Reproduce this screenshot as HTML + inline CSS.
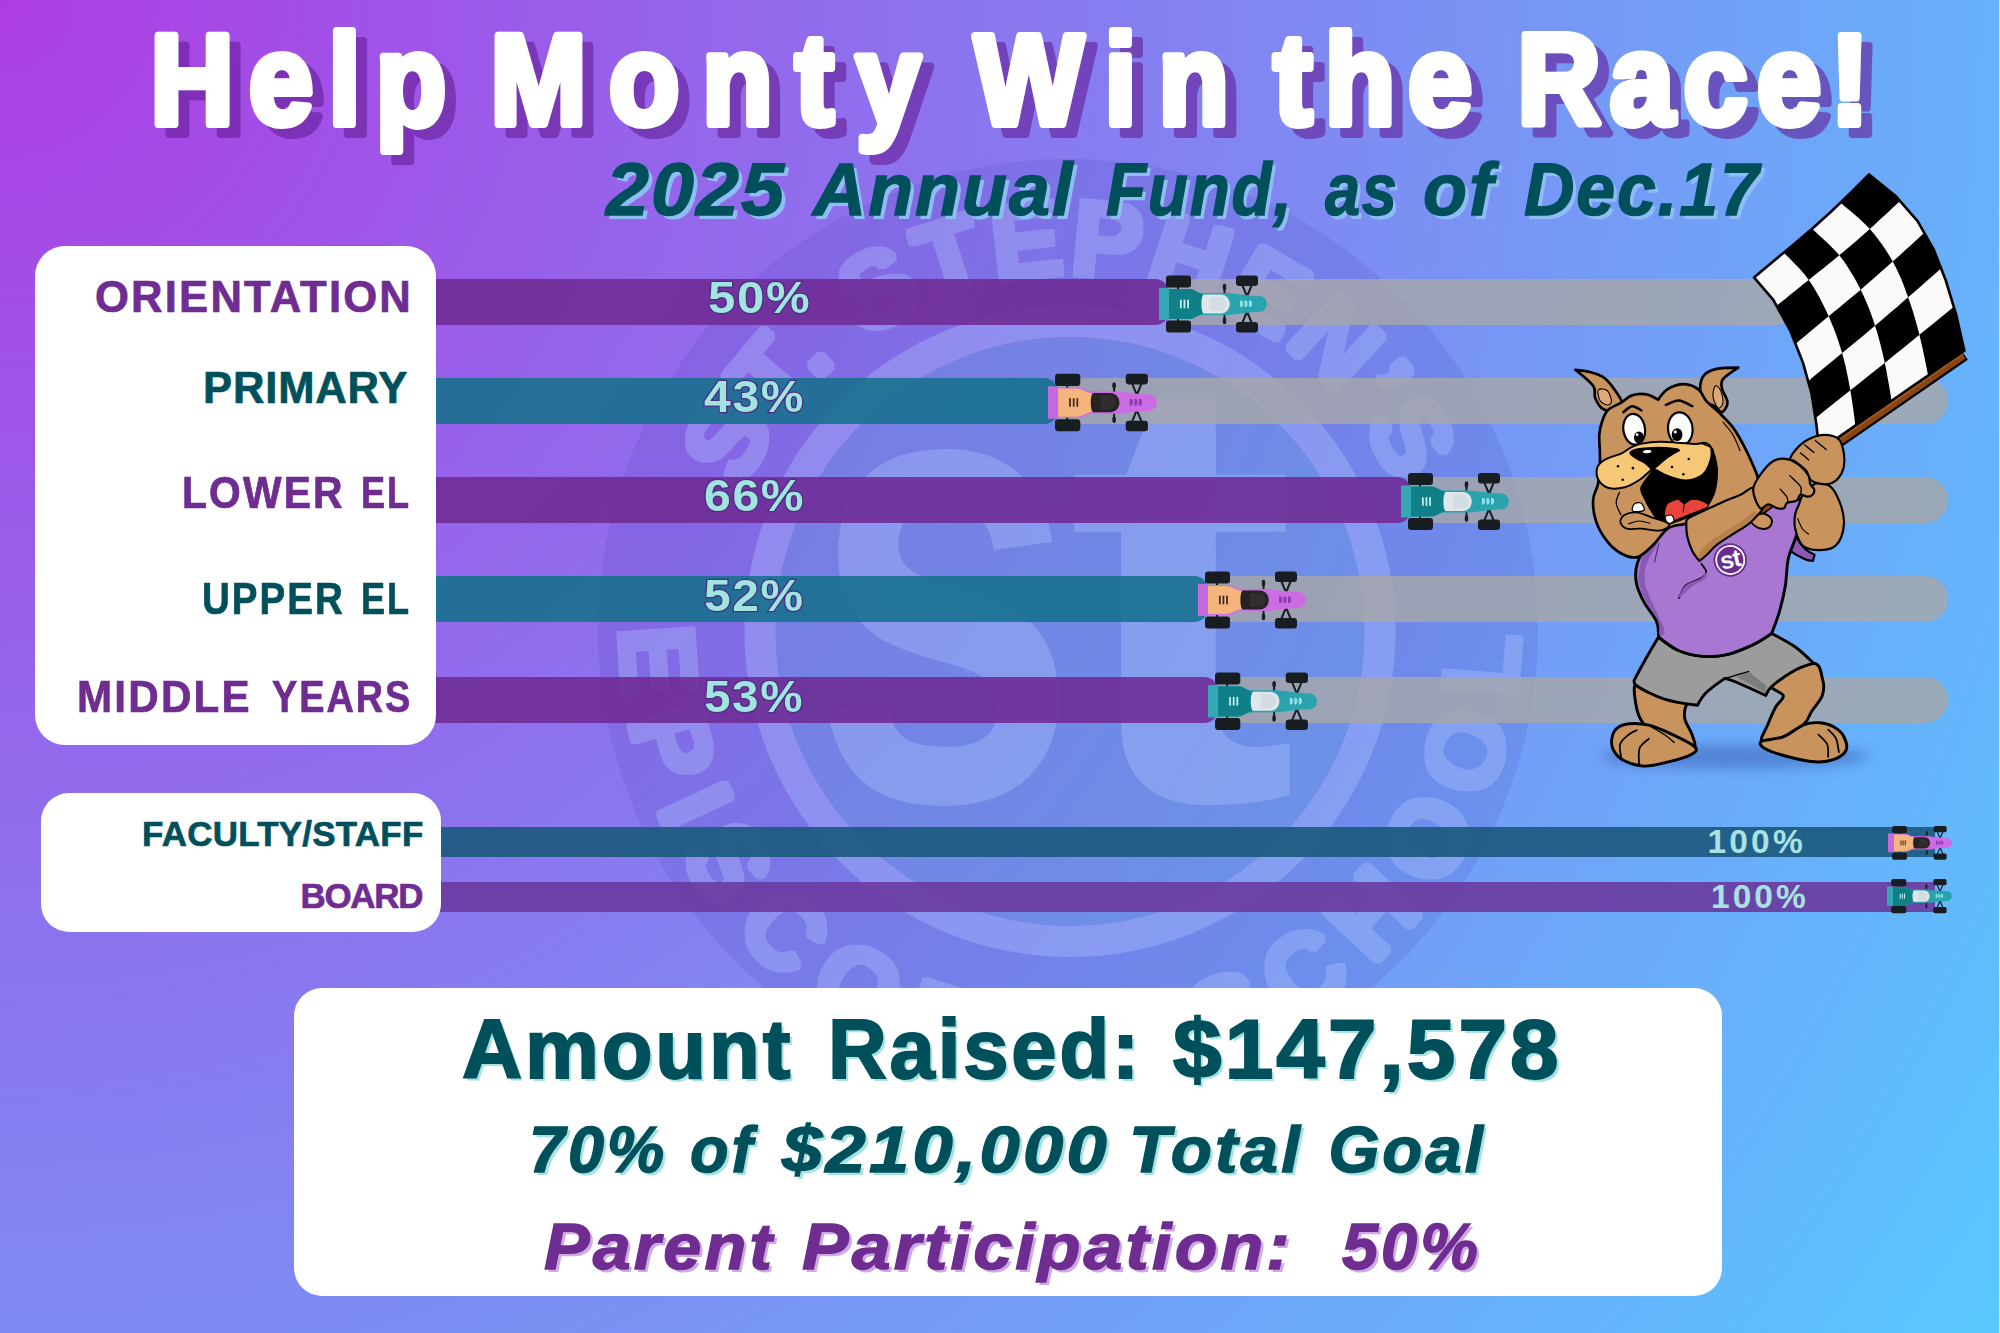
<!DOCTYPE html>
<html lang="en"><head><meta charset="utf-8"><title>Help Monty Win the Race!</title>
<style>
html,body{margin:0;padding:0;background:#68b0fb;}
body{width:2000px;height:1333px;overflow:hidden;font-family:"Liberation Sans",sans-serif;}
#page{position:relative;width:2000px;height:1333px;overflow:hidden;background:radial-gradient(circle farthest-corner at 0 0,#ad3de3 0%,#59c8ff 100%);}
#page>*{position:absolute;}
.tx{white-space:pre;line-height:1;font-weight:700;transform-origin:0 0;}
.title{color:#fff;-webkit-text-stroke:6px #fff;text-shadow:8.5px 8px 0 rgba(100,30,150,.6);}
.sub{color:#00505c;-webkit-text-stroke:1.4px #00505c;font-style:italic;text-shadow:4px 4px 0 #8fbdf3;}
.lab.pur{color:#6f2c91;-webkit-text-stroke:.7px #6f2c91;}
.lab.teal{color:#00505c;-webkit-text-stroke:.7px #00505c;}
.pct{color:#a2e4e0;-webkit-text-stroke:2.4px #4b2f83;paint-order:stroke fill;}
.pct2{color:#a8e2e2;}
.amt{color:#00505c;-webkit-text-stroke:2px #00505c;text-shadow:3px 3px 0 #a5e3e3;}
.goal{color:#00505c;-webkit-text-stroke:1.4px #00505c;font-style:italic;text-shadow:3px 3px 0 #a5e3e3;}
.par{color:#6f2c91;-webkit-text-stroke:1.4px #6f2c91;font-style:italic;text-shadow:3px 3px 0 #cfa9e3;}
.panel{background:#fff;}
.bar{opacity:.9;}
.trk{background:rgba(168,168,168,.8);}
</style></head>
<body><div id="page">
<svg style="left:0;top:0" width="2000" height="1333" viewBox="0 0 2000 1333">
<defs><filter id="fat" x="-2%" y="-2%" width="104%" height="104%"><feMorphology operator="dilate" radius="2.5"/></filter></defs>
<circle cx="1068" cy="629" r="470" fill="rgba(60,55,170,.13)"/>
<circle cx="1070" cy="631.5" r="294.5" fill="rgba(100,165,225,.3)"/>
<circle cx="1070" cy="631.5" r="310" fill="none" stroke="rgba(178,198,255,.34)" stroke-width="31"/>
<path id="wmTop" d="M743.1,489.3 A356.5,356.5 0 0 1 1395.7,486.5" fill="none"/>
<path id="wmBot" d="M620.5,627.6 A449.5,449.5 0 0 0 1519.5,635.4" fill="none"/>
<g opacity=".34" fill="#b2c6ff" font-family="Liberation Sans, sans-serif" font-weight="700">
<g filter="url(#fat)">
<text font-size="106"><textPath href="#wmTop" textLength="824" lengthAdjust="spacing">ST. STEPHEN’S</textPath></text>
<text font-size="106"><textPath href="#wmBot" textLength="1412" lengthAdjust="spacing">EPISCOPAL SCHOOL</textPath></text>
</g>
<text font-size="200" transform="translate(811.2,799.5) scale(2.396,3.2545)">s</text>
<text font-size="200" transform="translate(1066,799.8) scale(3.484,3.076)">t</text>
</g>
</svg>
<div class="trk" style="left:1169px;top:279px;width:631px;height:46px;border-radius:0 23.0px 23.0px 0;"></div>
<div class="bar" style="left:430px;top:279px;width:739px;height:46px;background:#6f2c96;border-radius:0 14px 14px 0;"></div>
<div class="trk" style="left:1058px;top:378px;width:890px;height:46px;border-radius:0 23.0px 23.0px 0;"></div>
<div class="bar" style="left:430px;top:378px;width:628px;height:46px;background:#18708f;border-radius:0 14px 14px 0;"></div>
<div class="trk" style="left:1411px;top:476.5px;width:537px;height:46.0px;border-radius:0 23.0px 23.0px 0;"></div>
<div class="bar" style="left:430px;top:476.5px;width:981px;height:46.0px;background:#6f2c96;border-radius:0 14px 14px 0;"></div>
<div class="trk" style="left:1208px;top:576px;width:740px;height:46px;border-radius:0 23.0px 23.0px 0;"></div>
<div class="bar" style="left:430px;top:576px;width:778px;height:46px;background:#18708f;border-radius:0 14px 14px 0;"></div>
<div class="trk" style="left:1218px;top:677px;width:730px;height:46px;border-radius:0 23.0px 23.0px 0;"></div>
<div class="bar" style="left:430px;top:677px;width:788px;height:46px;background:#6f2c96;border-radius:0 14px 14px 0;"></div>
<div class="bar2" style="left:430px;top:827px;width:1505px;height:30px;background:#1d5a80;opacity:.93;"></div>
<div class="bar2" style="left:430px;top:882px;width:1505px;height:30px;background:#6a3a9e;opacity:.9;"></div>
<div class="panel" style="left:35px;top:246px;width:401px;height:499px;border-radius:30px;"></div>
<div class="panel" style="left:41px;top:793px;width:400px;height:139px;border-radius:28px;"></div>
<div class="panel" style="left:294px;top:988px;width:1428px;height:308px;border-radius:28px;"></div>
<svg style="left:0;top:0" width="2000" height="1333" viewBox="0 0 2000 1333"><g transform="translate(1159,275.5) scale(1.0000)"><g stroke="#181d22" stroke-width="2" fill="none" stroke-linecap="round"><path d="M19 10V16M19 41V47"/><path d="M83.5 10 L88 21 L92.5 10M83.5 47 L88 36 L92.5 47"/><path d="M65.5 12V20M65.5 37V45"/></g><rect x="7" y="0" width="25" height="12" rx="3" fill="#181d22"/><rect x="7" y="45" width="25" height="12" rx="3" fill="#181d22"/><rect x="77" y="0" width="22" height="10.5" rx="3" fill="#181d22"/><rect x="77" y="46.5" width="22" height="10.5" rx="3" fill="#181d22"/><ellipse cx="65.5" cy="11.5" rx="1.8" ry="3.2" fill="#181d22"/><ellipse cx="65.5" cy="45.5" rx="1.8" ry="3.2" fill="#181d22"/><path d="M9 13.5 H30 C36 13.5 38 17.5 44 17.5 H70 C80 19 92 20.3 100 20.5 C110.5 21 110.5 36 100 36.5 C92 36.7 80 38 70 39.5 H44 C38 39.5 36 43.5 30 43.5 H9 Z" fill="#2aa3af"/><path d="M10 13.5 H30 C36 13.5 38 18 44 18.5 V38.5 C38 39 36 43.5 30 43.5 H10 Z" fill="#0f7f88"/><rect x="0" y="12.5" width="10" height="32" fill="#35a9b3"/><path d="M45 19 H61 C74 19 74 38 61 38 H45 C41.5 38 41.5 19 45 19 Z" fill="#dfe7ea"/><path d="M52 21.5 H60 C70 21.5 70 35.5 60 35.5 H52 Z" fill="#c9d3d8" opacity=".55"/><rect x="21" y="24" width="1.7" height="9" rx=".8" fill="#c8f2f2"/><rect x="24.6" y="24" width="1.7" height="9" rx=".8" fill="#c8f2f2"/><rect x="28.2" y="24" width="1.7" height="9" rx=".8" fill="#c8f2f2"/><path d="M81 25 h1.2 c2.6 0 2.6 6.6 0 6.6 h-1.2 z" fill="#8fe3e8"/><path d="M85.5 25 h1.2 c2.6 0 2.6 6.6 0 6.6 h-1.2 z" fill="#8fe3e8"/><path d="M90 25 h1.2 c2.6 0 2.6 6.6 0 6.6 h-1.2 z" fill="#8fe3e8"/></g><g transform="translate(1048,373.8) scale(1.0093)"><g stroke="#181d22" stroke-width="2" fill="none" stroke-linecap="round"><path d="M19 10V16M19 41V47"/><path d="M83.5 10 L88 21 L92.5 10M83.5 47 L88 36 L92.5 47"/><path d="M65.5 12V20M65.5 37V45"/></g><rect x="7" y="0" width="25" height="12" rx="3" fill="#181d22"/><rect x="7" y="45" width="25" height="12" rx="3" fill="#181d22"/><rect x="77" y="0" width="22" height="10.5" rx="3" fill="#181d22"/><rect x="77" y="46.5" width="22" height="10.5" rx="3" fill="#181d22"/><ellipse cx="65.5" cy="11.5" rx="1.8" ry="3.2" fill="#181d22"/><ellipse cx="65.5" cy="45.5" rx="1.8" ry="3.2" fill="#181d22"/><path d="M9 13.5 H30 C36 13.5 38 17.5 44 17.5 H70 C80 19 92 20.3 100 20.5 C110.5 21 110.5 36 100 36.5 C92 36.7 80 38 70 39.5 H44 C38 39.5 36 43.5 30 43.5 H9 Z" fill="#cc6be3"/><path d="M10 14.5 H26 C32 14.5 34 16 40 18.5 L46 20 V37 L40 38.5 C34 41 32 42.5 26 42.5 H10 Z" fill="#f3b57c"/><rect x="0" y="12.5" width="10" height="32" fill="#c56add"/><path d="M45 19 H61 C74 19 74 38 61 38 H45 C41.5 38 41.5 19 45 19 Z" fill="#262223"/><path d="M52 21.5 H60 C70 21.5 70 35.5 60 35.5 H52 Z" fill="#3a3536" opacity=".55"/><rect x="21" y="24" width="1.7" height="9" rx=".8" fill="#3b2a22"/><rect x="24.6" y="24" width="1.7" height="9" rx=".8" fill="#3b2a22"/><rect x="28.2" y="24" width="1.7" height="9" rx=".8" fill="#3b2a22"/><path d="M81 25 h1.2 c2.6 0 2.6 6.6 0 6.6 h-1.2 z" fill="#8a3cab"/><path d="M85.5 25 h1.2 c2.6 0 2.6 6.6 0 6.6 h-1.2 z" fill="#8a3cab"/><path d="M90 25 h1.2 c2.6 0 2.6 6.6 0 6.6 h-1.2 z" fill="#8a3cab"/></g><g transform="translate(1401,473) scale(1.0000)"><g stroke="#181d22" stroke-width="2" fill="none" stroke-linecap="round"><path d="M19 10V16M19 41V47"/><path d="M83.5 10 L88 21 L92.5 10M83.5 47 L88 36 L92.5 47"/><path d="M65.5 12V20M65.5 37V45"/></g><rect x="7" y="0" width="25" height="12" rx="3" fill="#181d22"/><rect x="7" y="45" width="25" height="12" rx="3" fill="#181d22"/><rect x="77" y="0" width="22" height="10.5" rx="3" fill="#181d22"/><rect x="77" y="46.5" width="22" height="10.5" rx="3" fill="#181d22"/><ellipse cx="65.5" cy="11.5" rx="1.8" ry="3.2" fill="#181d22"/><ellipse cx="65.5" cy="45.5" rx="1.8" ry="3.2" fill="#181d22"/><path d="M9 13.5 H30 C36 13.5 38 17.5 44 17.5 H70 C80 19 92 20.3 100 20.5 C110.5 21 110.5 36 100 36.5 C92 36.7 80 38 70 39.5 H44 C38 39.5 36 43.5 30 43.5 H9 Z" fill="#2aa3af"/><path d="M10 13.5 H30 C36 13.5 38 18 44 18.5 V38.5 C38 39 36 43.5 30 43.5 H10 Z" fill="#0f7f88"/><rect x="0" y="12.5" width="10" height="32" fill="#35a9b3"/><path d="M45 19 H61 C74 19 74 38 61 38 H45 C41.5 38 41.5 19 45 19 Z" fill="#dfe7ea"/><path d="M52 21.5 H60 C70 21.5 70 35.5 60 35.5 H52 Z" fill="#c9d3d8" opacity=".55"/><rect x="21" y="24" width="1.7" height="9" rx=".8" fill="#c8f2f2"/><rect x="24.6" y="24" width="1.7" height="9" rx=".8" fill="#c8f2f2"/><rect x="28.2" y="24" width="1.7" height="9" rx=".8" fill="#c8f2f2"/><path d="M81 25 h1.2 c2.6 0 2.6 6.6 0 6.6 h-1.2 z" fill="#8fe3e8"/><path d="M85.5 25 h1.2 c2.6 0 2.6 6.6 0 6.6 h-1.2 z" fill="#8fe3e8"/><path d="M90 25 h1.2 c2.6 0 2.6 6.6 0 6.6 h-1.2 z" fill="#8fe3e8"/></g><g transform="translate(1198,571.5) scale(1.0000)"><g stroke="#181d22" stroke-width="2" fill="none" stroke-linecap="round"><path d="M19 10V16M19 41V47"/><path d="M83.5 10 L88 21 L92.5 10M83.5 47 L88 36 L92.5 47"/><path d="M65.5 12V20M65.5 37V45"/></g><rect x="7" y="0" width="25" height="12" rx="3" fill="#181d22"/><rect x="7" y="45" width="25" height="12" rx="3" fill="#181d22"/><rect x="77" y="0" width="22" height="10.5" rx="3" fill="#181d22"/><rect x="77" y="46.5" width="22" height="10.5" rx="3" fill="#181d22"/><ellipse cx="65.5" cy="11.5" rx="1.8" ry="3.2" fill="#181d22"/><ellipse cx="65.5" cy="45.5" rx="1.8" ry="3.2" fill="#181d22"/><path d="M9 13.5 H30 C36 13.5 38 17.5 44 17.5 H70 C80 19 92 20.3 100 20.5 C110.5 21 110.5 36 100 36.5 C92 36.7 80 38 70 39.5 H44 C38 39.5 36 43.5 30 43.5 H9 Z" fill="#cc6be3"/><path d="M10 14.5 H26 C32 14.5 34 16 40 18.5 L46 20 V37 L40 38.5 C34 41 32 42.5 26 42.5 H10 Z" fill="#f3b57c"/><rect x="0" y="12.5" width="10" height="32" fill="#c56add"/><path d="M45 19 H61 C74 19 74 38 61 38 H45 C41.5 38 41.5 19 45 19 Z" fill="#262223"/><path d="M52 21.5 H60 C70 21.5 70 35.5 60 35.5 H52 Z" fill="#3a3536" opacity=".55"/><rect x="21" y="24" width="1.7" height="9" rx=".8" fill="#3b2a22"/><rect x="24.6" y="24" width="1.7" height="9" rx=".8" fill="#3b2a22"/><rect x="28.2" y="24" width="1.7" height="9" rx=".8" fill="#3b2a22"/><path d="M81 25 h1.2 c2.6 0 2.6 6.6 0 6.6 h-1.2 z" fill="#8a3cab"/><path d="M85.5 25 h1.2 c2.6 0 2.6 6.6 0 6.6 h-1.2 z" fill="#8a3cab"/><path d="M90 25 h1.2 c2.6 0 2.6 6.6 0 6.6 h-1.2 z" fill="#8a3cab"/></g><g transform="translate(1208,672.5) scale(1.0093)"><g stroke="#181d22" stroke-width="2" fill="none" stroke-linecap="round"><path d="M19 10V16M19 41V47"/><path d="M83.5 10 L88 21 L92.5 10M83.5 47 L88 36 L92.5 47"/><path d="M65.5 12V20M65.5 37V45"/></g><rect x="7" y="0" width="25" height="12" rx="3" fill="#181d22"/><rect x="7" y="45" width="25" height="12" rx="3" fill="#181d22"/><rect x="77" y="0" width="22" height="10.5" rx="3" fill="#181d22"/><rect x="77" y="46.5" width="22" height="10.5" rx="3" fill="#181d22"/><ellipse cx="65.5" cy="11.5" rx="1.8" ry="3.2" fill="#181d22"/><ellipse cx="65.5" cy="45.5" rx="1.8" ry="3.2" fill="#181d22"/><path d="M9 13.5 H30 C36 13.5 38 17.5 44 17.5 H70 C80 19 92 20.3 100 20.5 C110.5 21 110.5 36 100 36.5 C92 36.7 80 38 70 39.5 H44 C38 39.5 36 43.5 30 43.5 H9 Z" fill="#2aa3af"/><path d="M10 13.5 H30 C36 13.5 38 18 44 18.5 V38.5 C38 39 36 43.5 30 43.5 H10 Z" fill="#0f7f88"/><rect x="0" y="12.5" width="10" height="32" fill="#35a9b3"/><path d="M45 19 H61 C74 19 74 38 61 38 H45 C41.5 38 41.5 19 45 19 Z" fill="#dfe7ea"/><path d="M52 21.5 H60 C70 21.5 70 35.5 60 35.5 H52 Z" fill="#c9d3d8" opacity=".55"/><rect x="21" y="24" width="1.7" height="9" rx=".8" fill="#c8f2f2"/><rect x="24.6" y="24" width="1.7" height="9" rx=".8" fill="#c8f2f2"/><rect x="28.2" y="24" width="1.7" height="9" rx=".8" fill="#c8f2f2"/><path d="M81 25 h1.2 c2.6 0 2.6 6.6 0 6.6 h-1.2 z" fill="#8fe3e8"/><path d="M85.5 25 h1.2 c2.6 0 2.6 6.6 0 6.6 h-1.2 z" fill="#8fe3e8"/><path d="M90 25 h1.2 c2.6 0 2.6 6.6 0 6.6 h-1.2 z" fill="#8fe3e8"/></g><g transform="translate(1888,826) scale(0.5926)"><g stroke="#181d22" stroke-width="2" fill="none" stroke-linecap="round"><path d="M19 10V16M19 41V47"/><path d="M83.5 10 L88 21 L92.5 10M83.5 47 L88 36 L92.5 47"/><path d="M65.5 12V20M65.5 37V45"/></g><rect x="7" y="0" width="25" height="12" rx="3" fill="#181d22"/><rect x="7" y="45" width="25" height="12" rx="3" fill="#181d22"/><rect x="77" y="0" width="22" height="10.5" rx="3" fill="#181d22"/><rect x="77" y="46.5" width="22" height="10.5" rx="3" fill="#181d22"/><ellipse cx="65.5" cy="11.5" rx="1.8" ry="3.2" fill="#181d22"/><ellipse cx="65.5" cy="45.5" rx="1.8" ry="3.2" fill="#181d22"/><path d="M9 13.5 H30 C36 13.5 38 17.5 44 17.5 H70 C80 19 92 20.3 100 20.5 C110.5 21 110.5 36 100 36.5 C92 36.7 80 38 70 39.5 H44 C38 39.5 36 43.5 30 43.5 H9 Z" fill="#cc6be3"/><path d="M10 14.5 H26 C32 14.5 34 16 40 18.5 L46 20 V37 L40 38.5 C34 41 32 42.5 26 42.5 H10 Z" fill="#f3b57c"/><rect x="0" y="12.5" width="10" height="32" fill="#c56add"/><path d="M45 19 H61 C74 19 74 38 61 38 H45 C41.5 38 41.5 19 45 19 Z" fill="#262223"/><path d="M52 21.5 H60 C70 21.5 70 35.5 60 35.5 H52 Z" fill="#3a3536" opacity=".55"/><rect x="21" y="24" width="1.7" height="9" rx=".8" fill="#3b2a22"/><rect x="24.6" y="24" width="1.7" height="9" rx=".8" fill="#3b2a22"/><rect x="28.2" y="24" width="1.7" height="9" rx=".8" fill="#3b2a22"/><path d="M81 25 h1.2 c2.6 0 2.6 6.6 0 6.6 h-1.2 z" fill="#8a3cab"/><path d="M85.5 25 h1.2 c2.6 0 2.6 6.6 0 6.6 h-1.2 z" fill="#8a3cab"/><path d="M90 25 h1.2 c2.6 0 2.6 6.6 0 6.6 h-1.2 z" fill="#8a3cab"/></g><g transform="translate(1887,879) scale(0.6019)"><g stroke="#181d22" stroke-width="2" fill="none" stroke-linecap="round"><path d="M19 10V16M19 41V47"/><path d="M83.5 10 L88 21 L92.5 10M83.5 47 L88 36 L92.5 47"/><path d="M65.5 12V20M65.5 37V45"/></g><rect x="7" y="0" width="25" height="12" rx="3" fill="#181d22"/><rect x="7" y="45" width="25" height="12" rx="3" fill="#181d22"/><rect x="77" y="0" width="22" height="10.5" rx="3" fill="#181d22"/><rect x="77" y="46.5" width="22" height="10.5" rx="3" fill="#181d22"/><ellipse cx="65.5" cy="11.5" rx="1.8" ry="3.2" fill="#181d22"/><ellipse cx="65.5" cy="45.5" rx="1.8" ry="3.2" fill="#181d22"/><path d="M9 13.5 H30 C36 13.5 38 17.5 44 17.5 H70 C80 19 92 20.3 100 20.5 C110.5 21 110.5 36 100 36.5 C92 36.7 80 38 70 39.5 H44 C38 39.5 36 43.5 30 43.5 H9 Z" fill="#2aa3af"/><path d="M10 13.5 H30 C36 13.5 38 18 44 18.5 V38.5 C38 39 36 43.5 30 43.5 H10 Z" fill="#0f7f88"/><rect x="0" y="12.5" width="10" height="32" fill="#35a9b3"/><path d="M45 19 H61 C74 19 74 38 61 38 H45 C41.5 38 41.5 19 45 19 Z" fill="#dfe7ea"/><path d="M52 21.5 H60 C70 21.5 70 35.5 60 35.5 H52 Z" fill="#c9d3d8" opacity=".55"/><rect x="21" y="24" width="1.7" height="9" rx=".8" fill="#c8f2f2"/><rect x="24.6" y="24" width="1.7" height="9" rx=".8" fill="#c8f2f2"/><rect x="28.2" y="24" width="1.7" height="9" rx=".8" fill="#c8f2f2"/><path d="M81 25 h1.2 c2.6 0 2.6 6.6 0 6.6 h-1.2 z" fill="#8fe3e8"/><path d="M85.5 25 h1.2 c2.6 0 2.6 6.6 0 6.6 h-1.2 z" fill="#8fe3e8"/><path d="M90 25 h1.2 c2.6 0 2.6 6.6 0 6.6 h-1.2 z" fill="#8fe3e8"/></g></svg>
<svg style="left:0;top:0" width="2000" height="1333" viewBox="0 0 2000 1333"><path d="M1836,443.5 L1964.4,354.7" stroke="#000" stroke-width="12" stroke-linecap="butt"/><path d="M1836,443.5 L1963.4,355.4" stroke="#8a4413" stroke-width="7.6" stroke-linecap="butt"/><path d="M1836,441.5 L1963,353.6" stroke="#a85a1f" stroke-width="2" stroke-linecap="butt"/><path d="M1754.0,277.4 L1772.8,261.7 L1793.3,244.7 L1812.1,228.8 L1831.0,211.7 L1851.0,192.5 L1869.1,174.4 L1895.3,195.7 L1917.6,221.1 L1933.8,249.7 L1945.8,280.5 L1956.0,314.1 L1964.4,350.7 L1941.6,366.3 L1916.0,383.9 L1891.6,400.7 L1867.4,417.3 L1841.9,434.9 L1819.1,450.7 L1816.4,424.2 L1811.5,393.5 L1802.9,362.4 L1790.2,330.6 L1773.3,299.8Z" fill="#fcfaf9" stroke="#000" stroke-width="2.6" stroke-linejoin="round"/><path d="M1777.2,305.3 L1780.7,302.5 L1785.5,298.7 L1791.1,294.1 L1797.2,289.2 L1803.2,284.3 L1808.8,279.9 L1812.5,285.4 L1816.0,291.3 L1819.5,297.5 L1822.7,303.8 L1825.8,310.1 L1828.7,316.3 L1822.9,321.1 L1816.6,326.3 L1810.3,331.5 L1804.4,336.4 L1799.4,340.6 L1795.8,343.7 L1793.1,337.3 L1790.2,330.6 L1787.2,324.0 L1784.0,317.4 L1780.6,311.2ZM1808.6,380.9 L1812.2,377.7 L1817.3,373.5 L1823.3,368.5 L1829.7,363.2 L1836.2,357.9 L1842.1,353.0 L1843.8,359.2 L1845.4,365.5 L1846.7,371.8 L1848.0,378.0 L1849.2,384.2 L1850.3,390.3 L1844.1,395.2 L1837.5,400.5 L1830.8,405.8 L1824.6,410.7 L1819.4,414.9 L1815.6,418.1 L1814.7,412.2 L1813.7,406.1 L1812.7,399.8 L1811.5,393.5 L1810.1,387.2ZM1783.7,252.6 L1788.5,248.6 L1793.3,244.7 L1798.0,240.8 L1802.7,236.9 L1807.4,232.9 L1812.1,228.8 L1815.1,231.6 L1819.3,235.4 L1824.3,239.9 L1829.6,244.9 L1834.8,250.2 L1839.3,255.3 L1834.2,259.5 L1829.2,263.6 L1824.1,267.7 L1819.0,271.7 L1813.9,275.7 L1808.8,279.9 L1804.6,274.5 L1799.9,269.1 L1795.0,263.9 L1790.4,259.3 L1786.5,255.4ZM1828.7,316.3 L1834.0,311.8 L1839.4,307.4 L1844.7,303.0 L1850.0,298.6 L1855.3,294.2 L1860.7,289.7 L1863.5,295.5 L1866.1,301.5 L1868.6,307.5 L1870.9,313.5 L1873.0,319.6 L1875.0,325.7 L1869.6,330.3 L1864.1,334.9 L1858.6,339.4 L1853.1,343.9 L1847.6,348.4 L1842.1,353.0 L1840.2,346.9 L1838.2,340.7 L1836.1,334.6 L1833.8,328.5 L1831.3,322.4ZM1850.3,390.3 L1856.1,385.7 L1861.8,381.2 L1867.6,376.6 L1873.3,372.1 L1879.0,367.5 L1884.8,362.9 L1886.2,369.6 L1887.5,376.9 L1888.8,384.2 L1890.0,390.9 L1890.9,396.6 L1891.6,400.7 L1885.6,404.9 L1879.5,409.0 L1873.5,413.1 L1867.4,417.3 L1861.4,421.4 L1855.3,425.6 L1854.9,421.8 L1854.2,416.5 L1853.4,410.3 L1852.4,403.5 L1851.4,396.7ZM1839.3,255.3 L1844.4,251.1 L1849.4,246.8 L1854.5,242.4 L1859.6,237.9 L1864.7,233.5 L1869.8,228.9 L1874.1,234.0 L1878.2,239.2 L1882.1,244.6 L1885.9,250.2 L1889.4,255.8 L1892.7,261.5 L1887.4,266.3 L1882.0,271.1 L1876.7,275.8 L1871.3,280.4 L1866.0,285.1 L1860.7,289.7 L1857.6,283.7 L1854.3,277.8 L1850.8,271.9 L1847.1,266.1 L1843.3,260.6ZM1875.0,325.7 L1880.6,321.0 L1886.1,316.3 L1891.6,311.6 L1897.1,306.9 L1902.6,302.1 L1908.1,297.3 L1910.3,303.4 L1912.3,309.6 L1914.2,315.8 L1916.0,322.0 L1917.8,328.4 L1919.4,334.8 L1913.7,339.5 L1907.9,344.2 L1902.1,348.9 L1896.3,353.6 L1890.6,358.3 L1884.8,362.9 L1883.4,356.7 L1881.9,350.4 L1880.4,344.2 L1878.7,338.0 L1877.0,331.8ZM1840.5,202.8 L1845.6,197.9 L1851.0,192.5 L1856.5,187.0 L1861.6,181.9 L1866.0,177.5 L1869.1,174.4 L1872.6,177.2 L1877.5,181.0 L1883.2,185.6 L1889.4,190.6 L1895.3,195.7 L1900.5,200.7 L1897.1,203.8 L1892.5,208.1 L1887.0,213.2 L1881.1,218.6 L1875.3,224.0 L1869.8,228.9 L1864.9,223.9 L1859.4,218.8 L1853.7,213.8 L1848.3,209.3 L1843.7,205.5ZM1892.7,261.5 L1898.5,256.4 L1904.6,250.8 L1910.8,245.2 L1916.5,240.0 L1921.4,235.5 L1924.9,232.1 L1928.1,237.8 L1931.0,243.7 L1933.8,249.7 L1936.3,255.8 L1938.7,261.9 L1941.2,268.1 L1937.6,271.5 L1932.6,275.9 L1926.7,281.1 L1920.4,286.7 L1914.0,292.2 L1908.1,297.3 L1905.9,291.2 L1903.6,285.1 L1901.2,279.1 L1898.6,273.2 L1895.8,267.3ZM1919.4,334.8 L1925.6,329.8 L1932.2,324.5 L1938.9,319.1 L1945.0,314.1 L1950.2,309.8 L1954.0,306.5 L1956.0,314.1 L1958.0,322.4 L1960.0,331.0 L1961.8,339.0 L1963.3,345.8 L1964.4,350.7 L1960.5,353.4 L1955.0,357.1 L1948.6,361.6 L1941.6,366.3 L1934.6,371.1 L1928.1,375.6 L1927.2,371.1 L1926.0,364.9 L1924.5,357.6 L1922.9,349.7 L1921.1,341.9Z" fill="#000"/><ellipse cx="1735" cy="757" rx="135" ry="12" fill="rgba(45,70,160,.38)" style="filter:blur(6px)"/><g transform="translate(1600,520) scale(0.19501)"><path d="M190.0,835.0C165.5,841.7 178.0,905.8 183.0,940.0C188.0,974.2 200.5,1015.8 220.0,1040.0C239.5,1064.2 266.7,1070.8 300.0,1085.0C333.3,1099.2 389.2,1111.7 420.0,1125.0C450.8,1138.3 476.3,1169.2 485.0,1165.0C493.7,1160.8 480.3,1124.2 472.0,1100.0C463.7,1075.8 440.0,1045.0 435.0,1020.0C430.0,995.0 436.2,965.0 442.0,950.0C447.8,935.0 488.7,938.3 470.0,930.0C451.3,921.7 376.7,915.8 330.0,900.0C283.3,884.2 214.5,828.3 190.0,835.0Z" fill="#c9935d" stroke="#000" stroke-width="15" stroke-linejoin="round" stroke-linecap="round" /><path d="M1090.0,735.0C1133.7,731.7 1133.7,792.5 1142.0,820.0C1150.3,847.5 1149.5,873.0 1140.0,900.0C1130.5,927.0 1100.8,957.3 1085.0,982.0C1069.2,1006.7 1069.2,1026.3 1045.0,1048.0C1020.8,1069.7 975.8,1097.5 940.0,1112.0C904.2,1126.5 843.3,1145.3 830.0,1135.0C816.7,1124.7 848.3,1079.2 860.0,1050.0C871.7,1020.8 886.7,985.0 900.0,960.0C913.3,935.0 943.3,920.0 940.0,900.0C936.7,880.0 855.0,867.5 880.0,840.0C905.0,812.5 1046.3,738.3 1090.0,735.0Z" fill="#c9935d" stroke="#000" stroke-width="15" stroke-linejoin="round" stroke-linecap="round" /><path d="M60.0,1125.0C62.5,1106.3 70.0,1083.3 85.0,1070.0C100.0,1056.7 122.5,1048.0 150.0,1045.0C177.5,1042.0 216.7,1044.5 250.0,1052.0C283.3,1059.5 310.8,1071.7 350.0,1090.0C389.2,1108.3 465.3,1143.3 485.0,1162.0C504.7,1180.7 490.5,1189.0 468.0,1202.0C445.5,1215.0 390.5,1230.0 350.0,1240.0C309.5,1250.0 263.3,1263.3 225.0,1262.0C186.7,1260.7 145.8,1245.3 120.0,1232.0C94.2,1218.7 80.0,1199.8 70.0,1182.0C60.0,1164.2 57.5,1143.7 60.0,1125.0Z" fill="#c9935d" stroke="#000" stroke-width="15" stroke-linejoin="round" stroke-linecap="round" /><path d="M110.0,1225.0C108.8,1212.5 96.7,1170.8 103.0,1150.0C109.3,1129.2 133.8,1112.0 148.0,1100.0C162.2,1088.0 181.3,1081.7 188.0,1078.0" fill="none" stroke="#000" stroke-width="9" stroke-linecap="round" stroke-linejoin="round"/><path d="M200.0,1250.0C200.5,1236.7 194.7,1191.3 203.0,1170.0C211.3,1148.7 242.2,1130.0 250.0,1122.0" fill="none" stroke="#000" stroke-width="9" stroke-linecap="round" stroke-linejoin="round"/><path d="M250.0,1052.0C263.3,1060.0 308.3,1085.3 330.0,1100.0C351.7,1114.7 371.7,1133.3 380.0,1140.0" fill="none" stroke="#000" stroke-width="7" stroke-linecap="round" stroke-linejoin="round"/><path d="M828.0,1135.0C812.2,1145.0 824.7,1159.5 845.0,1172.0C865.3,1184.5 907.5,1198.7 950.0,1210.0C992.5,1221.3 1058.3,1237.0 1100.0,1240.0C1141.7,1243.0 1173.0,1238.0 1200.0,1228.0C1227.0,1218.0 1253.7,1199.7 1262.0,1180.0C1270.3,1160.3 1260.3,1129.7 1250.0,1110.0C1239.7,1090.3 1220.0,1073.7 1200.0,1062.0C1180.0,1050.3 1155.8,1042.0 1130.0,1040.0C1104.2,1038.0 1076.7,1038.0 1045.0,1050.0C1013.3,1062.0 976.2,1097.8 940.0,1112.0C903.8,1126.2 843.8,1125.0 828.0,1135.0Z" fill="#c9935d" stroke="#000" stroke-width="15" stroke-linejoin="round" stroke-linecap="round" /><path d="M1170.0,1215.0C1169.2,1204.2 1173.3,1169.2 1165.0,1150.0C1156.7,1130.8 1127.5,1108.3 1120.0,1100.0" fill="none" stroke="#000" stroke-width="9" stroke-linecap="round" stroke-linejoin="round"/><path d="M1225.0,1190.0C1222.5,1178.3 1219.2,1139.2 1210.0,1120.0C1200.8,1100.8 1176.7,1082.5 1170.0,1075.0" fill="none" stroke="#000" stroke-width="9" stroke-linecap="round" stroke-linejoin="round"/><path d="M940.0,1112.0C950.0,1105.3 982.5,1082.3 1000.0,1072.0C1017.5,1061.7 1037.5,1053.7 1045.0,1050.0" fill="none" stroke="#000" stroke-width="7" stroke-linecap="round" stroke-linejoin="round"/><path d="M300.0,600.0C300.0,600.0 250.0,684.7 230.0,720.0C210.0,755.3 180.0,812.0 180.0,812.0C180.0,812.0 163.0,832.3 188.0,850.0C213.0,867.7 278.0,901.3 330.0,918.0C382.0,934.7 500.0,950.0 500.0,950.0C500.0,950.0 521.7,908.0 545.0,885.0C568.3,862.0 640.0,812.0 640.0,812.0C640.0,812.0 665.0,817.3 700.0,832.0C735.0,846.7 850.0,900.0 850.0,900.0C850.0,900.0 860.0,871.7 885.0,850.0C910.0,828.3 965.0,789.2 1000.0,770.0C1035.0,750.8 1095.0,735.0 1095.0,735.0C1095.0,735.0 1035.8,675.5 1000.0,650.0C964.2,624.5 880.0,582.0 880.0,582.0C880.0,582.0 818.3,624.0 780.0,642.0C741.7,660.0 693.3,680.7 650.0,690.0C606.7,699.3 561.7,701.7 520.0,698.0C478.3,694.3 436.7,684.3 400.0,668.0C363.3,651.7 300.0,600.0 300.0,600.0Z" fill="#9c9c9c" stroke="#000" stroke-width="15" stroke-linejoin="round" stroke-linecap="round" /><path d="M700,805 L765,778 L855,852 L845,885 Z" fill="#7d7d7d"/><path d="M640.0,812.0C650.0,809.2 679.7,801.0 700.0,795.0C720.3,789.0 751.7,779.2 762.0,776.0" fill="none" stroke="#000" stroke-width="7" stroke-linecap="round" stroke-linejoin="round"/><path d="M925.0,40.0C917.2,66.7 938.8,114.0 958.0,140.0C977.2,166.0 1017.7,184.3 1040.0,196.0C1062.3,207.7 1092.0,210.0 1092.0,210.0C1092.0,210.0 1100.0,178.0 1100.0,178.0C1100.0,178.0 1061.3,158.3 1046.0,142.0C1030.7,125.7 1014.8,107.0 1008.0,80.0C1001.2,53.0 1018.8,-13.3 1005.0,-20.0C991.2,-26.7 932.8,13.3 925.0,40.0Z" fill="#8a58b5" stroke="#000" stroke-width="11" stroke-linejoin="round" stroke-linecap="round" /><path d="M330.0,40.0C305.0,76.7 273.0,90.0 250.0,120.0C227.0,150.0 202.7,186.7 192.0,220.0C181.3,253.3 180.5,286.7 186.0,320.0C191.5,353.3 207.7,386.7 225.0,420.0C242.3,453.3 277.5,490.0 290.0,520.0C302.5,550.0 300.0,600.0 300.0,600.0C300.0,600.0 363.3,651.7 400.0,668.0C436.7,684.3 478.3,694.3 520.0,698.0C561.7,701.7 606.7,699.3 650.0,690.0C693.3,680.7 741.7,660.0 780.0,642.0C818.3,624.0 880.0,582.0 880.0,582.0C880.0,582.0 908.3,510.3 920.0,470.0C931.7,429.7 942.5,385.0 950.0,340.0C957.5,295.0 956.7,240.0 965.0,200.0C973.3,160.0 989.2,133.3 1000.0,100.0C1010.8,66.7 1030.0,36.7 1030.0,0.0C1030.0,-36.7 1071.7,-83.3 1000.0,-120.0C928.3,-156.7 700.0,-223.3 600.0,-220.0C500.0,-216.7 445.0,-143.3 400.0,-100.0C355.0,-56.7 355.0,3.3 330.0,40.0Z" fill="#a877d1" stroke="#000" stroke-width="15" stroke-linejoin="round" stroke-linecap="round" /><path d="M300.0,80.0C290.8,83.3 250.8,123.3 235.0,150.0C219.2,176.7 210.8,211.7 205.0,240.0C199.2,268.3 194.5,290.0 200.0,320.0C205.5,350.0 221.7,387.5 238.0,420.0C254.3,452.5 286.8,486.7 298.0,515.0C309.2,543.3 299.7,581.7 305.0,590.0C310.3,598.3 335.0,590.0 330.0,565.0C325.0,540.0 291.3,479.2 275.0,440.0C258.7,400.8 238.5,364.2 232.0,330.0C225.5,295.8 226.3,268.3 236.0,235.0C245.7,201.7 279.3,155.8 290.0,130.0C300.7,104.2 309.2,76.7 300.0,80.0Z" fill="#8a58b5"/><path d="M302.0,120.0C300.0,128.3 293.7,154.2 290.0,170.0C286.3,185.8 281.7,207.5 280.0,215.0" fill="none" stroke="#5b2d86" stroke-width="6" stroke-linecap="round" stroke-linejoin="round"/><path d="M405.0,400.0C410.8,389.2 421.7,351.7 440.0,335.0C458.3,318.3 497.5,311.2 515.0,300.0C532.5,288.8 544.2,280.5 545.0,268.0C545.8,255.5 524.2,232.2 520.0,225.0" fill="none" stroke="#000" stroke-width="9" stroke-linecap="round" stroke-linejoin="round"/><path d="M405.0,400.0C398.3,400.0 421.7,351.7 440.0,335.0C458.3,318.3 497.5,311.2 515.0,300.0C532.5,288.8 540.8,268.0 545.0,268.0C549.2,268.0 550.8,288.8 540.0,300.0C529.2,311.2 502.5,318.3 480.0,335.0C457.5,351.7 411.7,400.0 405.0,400.0Z" fill="#8a58b5"/><g transform="rotate(-12 668 205)"><circle cx="668" cy="205" r="86" fill="#6b2c90"/><circle cx="668" cy="205" r="72" fill="none" stroke="#fff" stroke-width="9"/><text x="668" y="245" text-anchor="middle" font-family="Liberation Sans, sans-serif" font-weight="700" font-size="125" fill="#fff" letter-spacing="-4">st</text></g></g><g transform="translate(1560,350) scale(0.18008)"><path d="M300.0,335.0C281.7,340.0 252.5,336.7 235.0,325.0C217.5,313.3 203.3,285.8 195.0,265.0C186.7,244.2 203.3,225.8 185.0,200.0C166.7,174.2 85.0,110.0 85.0,110.0C85.0,110.0 139.2,115.3 165.0,122.0C190.8,128.7 218.8,136.2 240.0,150.0C261.2,163.8 274.5,180.8 292.0,205.0C309.5,229.2 343.7,273.3 345.0,295.0C346.3,316.7 318.3,330.0 300.0,335.0Z" fill="#c9935d" stroke="#000" stroke-width="15" stroke-linejoin="round" stroke-linecap="round" /><path d="M213.0,222.0C206.3,231.2 213.8,266.2 222.0,280.0C230.2,293.8 251.3,304.2 262.0,305.0C272.7,305.8 286.0,298.3 286.0,285.0C286.0,271.7 274.2,235.5 262.0,225.0C249.8,214.5 219.7,212.8 213.0,222.0Z" fill="#dea978" stroke="#000" stroke-width="6" stroke-linejoin="round" stroke-linecap="round" /><path d="M800.0,290.0C787.2,274.2 778.0,240.0 778.0,215.0C778.0,190.0 784.7,158.3 800.0,140.0C815.3,121.7 838.3,112.0 870.0,105.0C901.7,98.0 990.0,98.0 990.0,98.0C990.0,98.0 920.0,142.5 905.0,162.0C890.0,181.5 895.8,193.7 900.0,215.0C904.2,236.3 930.0,268.3 930.0,290.0C930.0,311.7 912.5,341.7 900.0,345.0C887.5,348.3 871.7,319.2 855.0,310.0C838.3,300.8 812.8,305.8 800.0,290.0Z" fill="#c9935d" stroke="#000" stroke-width="15" stroke-linejoin="round" stroke-linecap="round" /><path d="M862.0,200.0C855.0,205.8 847.3,239.7 850.0,260.0C852.7,280.3 868.8,316.7 878.0,322.0C887.2,327.3 902.7,308.2 905.0,292.0C907.3,275.8 899.2,240.3 892.0,225.0C884.8,209.7 869.0,194.2 862.0,200.0Z" fill="#dea978" stroke="#000" stroke-width="6" stroke-linejoin="round" stroke-linecap="round" /><path d="M340.0,292.0C362.0,278.7 376.7,259.7 400.0,252.0C423.3,244.3 455.8,242.0 480.0,246.0C504.2,250.0 545.0,276.0 545.0,276.0C545.0,276.0 575.8,230.3 600.0,216.0C624.2,201.7 661.7,189.3 690.0,190.0C718.3,190.7 749.7,204.7 770.0,220.0C790.3,235.3 793.7,261.2 812.0,282.0C830.3,302.8 855.3,320.3 880.0,345.0C904.7,369.7 936.7,399.2 960.0,430.0C983.3,460.8 1001.3,495.0 1020.0,530.0C1038.7,565.0 1058.7,608.3 1072.0,640.0C1085.3,671.7 1097.8,693.3 1100.0,720.0C1102.2,746.7 1101.7,773.3 1085.0,800.0C1068.3,826.7 1039.2,858.3 1000.0,880.0C960.8,901.7 900.0,915.8 850.0,930.0C800.0,944.2 741.7,955.0 700.0,965.0C658.3,975.0 630.0,970.8 600.0,990.0C570.0,1009.2 548.3,1053.3 520.0,1080.0C491.7,1106.7 460.0,1141.7 430.0,1150.0C400.0,1158.3 368.3,1145.0 340.0,1130.0C311.7,1115.0 283.3,1090.0 260.0,1060.0C236.7,1030.0 212.7,988.3 200.0,950.0C187.3,911.7 182.0,865.0 184.0,830.0C186.0,795.0 205.7,778.3 212.0,740.0C218.3,701.7 221.0,645.0 222.0,600.0C223.0,555.0 215.7,505.0 218.0,470.0C220.3,435.0 227.7,413.0 236.0,390.0C244.3,367.0 250.7,348.3 268.0,332.0C285.3,315.7 318.0,305.3 340.0,292.0Z" fill="#c9935d" stroke="#000" stroke-width="15" stroke-linejoin="round" stroke-linecap="round" /><path d="M352.0,345.0C360.0,339.5 383.3,313.7 400.0,312.0C416.7,310.3 443.3,331.2 452.0,335.0" fill="none" stroke="#000" stroke-width="14" stroke-linecap="round" stroke-linejoin="round"/><path d="M588.0,305.0C600.0,300.8 635.5,278.8 660.0,280.0C684.5,281.2 722.5,306.7 735.0,312.0" fill="none" stroke="#000" stroke-width="14" stroke-linecap="round" stroke-linejoin="round"/><path d="M905.0,400.0C914.2,411.7 944.2,443.3 960.0,470.0C975.8,496.7 993.3,545.0 1000.0,560.0" fill="none" stroke="#000" stroke-width="6" stroke-linecap="round" stroke-linejoin="round"/><path d="M330.0,790.0C327.0,800.0 310.7,829.2 312.0,850.0C313.3,870.8 333.7,904.2 338.0,915.0" fill="none" stroke="#000" stroke-width="7" stroke-linecap="round" stroke-linejoin="round"/><ellipse cx="412" cy="440" rx="60" ry="86" fill="#fff" stroke="#000" stroke-width="12" transform="rotate(-8 412 440)"/><ellipse cx="668" cy="438" rx="68" ry="92" fill="#fff" stroke="#000" stroke-width="12" transform="rotate(-6 668 438)"/><ellipse cx="438" cy="486" rx="27" ry="34" fill="#000"/><ellipse cx="650" cy="470" rx="30" ry="36" fill="#000"/><circle cx="428" cy="470" r="8" fill="#fff"/><circle cx="640" cy="455" r="9" fill="#fff"/><path d="M450.0,765.0C455.3,743.0 487.5,707.5 500.0,690.0C512.5,672.5 508.3,658.3 525.0,660.0C541.7,661.7 570.8,688.7 600.0,700.0C629.2,711.3 668.3,728.3 700.0,728.0C731.7,727.7 767.3,716.0 790.0,698.0C812.7,680.0 826.7,643.8 836.0,620.0C845.3,596.2 840.0,550.0 846.0,555.0C852.0,560.0 868.7,615.8 872.0,650.0C875.3,684.2 871.3,729.7 866.0,760.0C860.7,790.3 852.7,810.0 840.0,832.0C827.3,854.0 826.7,870.3 790.0,892.0C753.3,913.7 658.3,950.3 620.0,962.0C581.7,973.7 580.0,975.3 560.0,962.0C540.0,948.7 515.3,905.3 500.0,882.0C484.7,858.7 476.3,841.5 468.0,822.0C459.7,802.5 444.7,787.0 450.0,765.0Z" fill="#000" stroke="#000" stroke-width="8" stroke-linejoin="round" stroke-linecap="round" /><path d="M580.0,900.0C582.0,886.2 585.5,863.7 598.0,852.0C610.5,840.3 639.7,830.0 655.0,830.0C670.3,830.0 677.5,852.0 690.0,852.0C702.5,852.0 713.3,832.3 730.0,830.0C746.7,827.7 774.7,831.3 790.0,838.0C805.3,844.7 833.7,857.7 822.0,870.0C810.3,882.3 753.3,898.7 720.0,912.0C686.7,925.3 644.3,946.2 622.0,950.0C599.7,953.8 593.0,943.3 586.0,935.0C579.0,926.7 578.0,913.8 580.0,900.0Z" fill="#e8443b" stroke="#000" stroke-width="6" stroke-linejoin="round" stroke-linecap="round" /><path d="M690.0,852.0C689.0,860.0 685.0,892.0 684.0,900.0" fill="none" stroke="#000" stroke-width="5" stroke-linecap="round" stroke-linejoin="round"/><path d="M405.0,895.0C396.0,889.3 404.5,863.5 412.0,856.0C419.5,848.5 441.0,844.3 450.0,850.0C459.0,855.7 473.5,882.5 466.0,890.0C458.5,897.5 414.0,900.7 405.0,895.0Z" fill="#fff" stroke="#000" stroke-width="7" stroke-linejoin="round" stroke-linecap="round" /><path d="M585.0,925.0C588.3,917.7 612.2,913.8 620.0,918.0C627.8,922.2 635.3,942.7 632.0,950.0C628.7,957.3 607.8,966.2 600.0,962.0C592.2,957.8 581.7,932.3 585.0,925.0Z" fill="#fff" stroke="#000" stroke-width="6" stroke-linejoin="round" stroke-linecap="round" /><path d="M342.0,574.0C323.7,583.0 307.0,585.2 290.0,592.0C273.0,598.8 254.0,604.5 240.0,615.0C226.0,625.5 210.3,637.2 206.0,655.0C201.7,672.8 203.3,703.5 214.0,722.0C224.7,740.5 245.7,759.3 270.0,766.0C294.3,772.7 331.7,769.3 360.0,762.0C388.3,754.7 416.7,737.0 440.0,722.0C463.3,707.0 486.7,682.3 500.0,672.0C513.3,661.7 503.3,655.3 520.0,660.0C536.7,664.7 570.0,689.3 600.0,700.0C630.0,710.7 668.3,725.0 700.0,724.0C731.7,723.0 768.0,710.5 790.0,694.0C812.0,677.5 823.7,649.3 832.0,625.0C840.3,600.7 844.0,566.2 840.0,548.0C836.0,529.8 822.2,520.3 808.0,516.0C793.8,511.7 780.5,522.2 755.0,522.0C729.5,521.8 688.3,517.0 655.0,515.0C621.7,513.0 588.3,509.2 555.0,510.0C521.7,510.8 480.8,515.3 455.0,520.0C429.2,524.7 418.8,529.0 400.0,538.0C381.2,547.0 360.3,565.0 342.0,574.0Z" fill="#f6c774" stroke="#000" stroke-width="11" stroke-linejoin="round" stroke-linecap="round" /><path d="M790.0,520.0C799.3,524.7 836.0,533.0 846.0,548.0C856.0,563.0 849.3,599.7 850.0,610.0" fill="none" stroke="#000" stroke-width="9" stroke-linecap="round" stroke-linejoin="round"/><circle cx="322" cy="646" r="7" fill="#000"/><circle cx="405" cy="656" r="7" fill="#000"/><circle cx="348" cy="720" r="7" fill="#000"/><circle cx="622" cy="650" r="7" fill="#000"/><circle cx="715" cy="605" r="7" fill="#000"/><circle cx="685" cy="690" r="7" fill="#000"/><path d="M388.0,572.0C388.0,563.0 403.0,555.2 425.0,550.0C447.0,544.8 484.2,541.5 520.0,541.0C555.8,540.5 616.0,544.2 640.0,547.0C664.0,549.8 664.0,558.0 664.0,558.0C664.0,558.0 619.8,582.0 600.0,596.0C580.2,610.0 559.7,630.0 545.0,642.0C530.3,654.0 512.0,668.0 512.0,668.0C512.0,668.0 484.5,638.7 470.0,628.0C455.5,617.3 438.7,613.3 425.0,604.0C411.3,594.7 388.0,581.0 388.0,572.0Z" fill="#000" stroke="#000" stroke-width="6" stroke-linejoin="round" stroke-linecap="round" /><ellipse cx="484" cy="564" rx="24" ry="9" fill="#fff" transform="rotate(-4 484 564)"/><path d="M335.0,955.0C333.3,942.2 345.0,923.8 360.0,915.0C375.0,906.2 400.8,899.8 425.0,902.0C449.2,904.2 475.0,917.3 505.0,928.0C535.0,938.7 595.8,953.7 605.0,966.0C614.2,978.3 585.8,997.7 560.0,1002.0C534.2,1006.3 481.7,993.7 450.0,992.0C418.3,990.3 389.2,998.2 370.0,992.0C350.8,985.8 336.7,967.8 335.0,955.0Z" fill="#c9935d" stroke="#000" stroke-width="10" stroke-linejoin="round" stroke-linecap="round" /><path d="M380.0,965.0C390.0,962.5 420.0,950.5 440.0,950.0C460.0,949.5 490.0,960.0 500.0,962.0" fill="none" stroke="#000" stroke-width="6" stroke-linecap="round" stroke-linejoin="round"/></g><g transform="translate(1660,400) scale(0.13506)"><path d="M860,740 L745,825" stroke="#000" stroke-width="62" stroke-linecap="round"/><path d="M860,740 L745,825" stroke="#8a4413" stroke-width="40" stroke-linecap="round"/><path d="M670.0,880.0C660.0,895.0 685.0,917.5 700.0,930.0C715.0,942.5 740.8,954.2 760.0,955.0C779.2,955.8 804.2,947.5 815.0,935.0C825.8,922.5 834.2,895.8 825.0,880.0C815.8,864.2 785.8,840.0 760.0,840.0C734.2,840.0 680.0,865.0 670.0,880.0Z" fill="#c9935d" stroke="#000" stroke-width="14" stroke-linejoin="round" stroke-linecap="round" /><path d="M1060.0,700.0C1040.0,725.0 1040.0,745.0 1030.0,770.0C1020.0,795.0 1005.0,820.0 1000.0,850.0C995.0,880.0 993.3,915.0 1000.0,950.0C1006.7,985.0 1025.8,1035.8 1040.0,1060.0C1054.2,1084.2 1061.7,1086.3 1085.0,1095.0C1108.3,1103.7 1147.5,1112.5 1180.0,1112.0C1212.5,1111.5 1253.3,1107.3 1280.0,1092.0C1306.7,1076.7 1326.3,1052.0 1340.0,1020.0C1353.7,988.0 1363.3,943.3 1362.0,900.0C1360.7,856.7 1349.0,803.3 1332.0,760.0C1315.0,716.7 1290.3,663.3 1260.0,640.0C1229.7,616.7 1183.3,610.0 1150.0,620.0C1116.7,630.0 1080.0,675.0 1060.0,700.0Z" fill="#c9935d" stroke="#000" stroke-width="16" stroke-linejoin="round" stroke-linecap="round" /><path d="M1020.0,880.0C1025.8,892.5 1041.7,936.3 1055.0,955.0C1068.3,973.7 1092.5,985.8 1100.0,992.0" fill="none" stroke="#000" stroke-width="9" stroke-linecap="round" stroke-linejoin="round"/><path d="M700.0,650.0C673.3,635.0 641.7,681.3 600.0,700.0C558.3,718.7 500.0,740.0 450.0,762.0C400.0,784.0 340.8,812.3 300.0,832.0C259.2,851.7 222.5,865.3 205.0,880.0C187.5,894.7 195.5,898.3 195.0,920.0C194.5,941.7 194.5,976.7 202.0,1010.0C209.5,1043.3 225.0,1089.7 240.0,1120.0C255.0,1150.3 292.0,1192.0 292.0,1192.0C292.0,1192.0 328.7,1162.0 350.0,1142.0C371.3,1122.0 388.3,1097.0 420.0,1072.0C451.7,1047.0 501.7,1017.0 540.0,992.0C578.3,967.0 619.7,945.3 650.0,922.0C680.3,898.7 703.7,874.0 722.0,852.0C740.3,830.0 763.7,823.7 760.0,790.0C756.3,756.3 726.7,665.0 700.0,650.0Z" fill="#c9935d" stroke="#000" stroke-width="16" stroke-linejoin="round" stroke-linecap="round" /><path d="M292.0,1180.0C300.3,1181.7 328.7,1150.0 350.0,1130.0C371.3,1110.0 388.3,1085.0 420.0,1060.0C451.7,1035.0 501.7,1005.0 540.0,980.0C578.3,955.0 620.8,932.5 650.0,910.0C679.2,887.5 708.3,858.3 715.0,845.0C721.7,831.7 709.2,820.8 690.0,830.0C670.8,839.2 635.0,875.8 600.0,900.0C565.0,924.2 516.7,951.7 480.0,975.0C443.3,998.3 410.0,1015.8 380.0,1040.0C350.0,1064.2 314.7,1096.7 300.0,1120.0C285.3,1143.3 283.7,1178.3 292.0,1180.0Z" fill="#b07c48" opacity=".8"/><path d="M965.0,430.0C970.0,410.8 1007.5,363.3 1030.0,340.0C1052.5,316.7 1073.3,303.3 1100.0,290.0C1126.7,276.7 1160.0,264.0 1190.0,260.0C1220.0,256.0 1256.3,259.3 1280.0,266.0C1303.7,272.7 1318.3,277.7 1332.0,300.0C1345.7,322.3 1357.3,366.7 1362.0,400.0C1366.7,433.3 1367.0,470.0 1360.0,500.0C1353.0,530.0 1338.3,559.7 1320.0,580.0C1301.7,600.3 1278.3,616.7 1250.0,622.0C1221.7,627.3 1174.2,619.0 1150.0,612.0C1125.8,605.0 1116.7,595.3 1105.0,580.0C1093.3,564.7 1097.5,540.8 1080.0,520.0C1062.5,499.2 1019.2,470.0 1000.0,455.0C980.8,440.0 960.0,449.2 965.0,430.0Z" fill="#c9935d" stroke="#000" stroke-width="16" stroke-linejoin="round" stroke-linecap="round" /><path d="M1070.0,332.0C1081.7,341.3 1128.3,378.7 1140.0,388.0" fill="none" stroke="#000" stroke-width="10" stroke-linecap="round" stroke-linejoin="round"/><path d="M1150.0,300.0C1163.3,311.0 1216.7,355.0 1230.0,366.0" fill="none" stroke="#000" stroke-width="10" stroke-linecap="round" stroke-linejoin="round"/><path d="M1040.0,392.0C1050.0,400.3 1090.0,433.7 1100.0,442.0" fill="none" stroke="#000" stroke-width="10" stroke-linecap="round" stroke-linejoin="round"/><path d="M690.0,660.0C693.3,615.0 733.3,565.7 760.0,530.0C786.7,494.3 818.3,461.0 850.0,446.0C881.7,431.0 918.3,432.7 950.0,440.0C981.7,447.3 1015.0,470.0 1040.0,490.0C1065.0,510.0 1088.0,538.0 1100.0,560.0C1112.0,582.0 1105.0,605.0 1112.0,622.0C1119.0,639.0 1139.0,648.7 1142.0,662.0C1145.0,675.3 1138.7,693.0 1130.0,702.0C1121.3,711.0 1105.0,716.3 1090.0,716.0C1075.0,715.7 1053.3,695.0 1040.0,700.0C1026.7,705.0 1026.7,735.7 1010.0,746.0C993.3,756.3 955.0,753.0 940.0,762.0C925.0,771.0 931.7,793.3 920.0,800.0C908.3,806.7 890.0,806.7 870.0,802.0C850.0,797.3 821.7,772.3 800.0,772.0C778.3,771.7 758.3,818.7 740.0,800.0C721.7,781.3 686.7,705.0 690.0,660.0Z" fill="#c9935d" stroke="#000" stroke-width="16" stroke-linejoin="round" stroke-linecap="round" /><path d="M960.0,560.0C973.3,573.3 1026.3,618.0 1040.0,640.0C1053.7,662.0 1041.7,683.3 1042.0,692.0" fill="none" stroke="#000" stroke-width="10" stroke-linecap="round" stroke-linejoin="round"/><path d="M890.0,660.0C898.3,670.0 930.7,703.3 940.0,720.0C949.3,736.7 945.0,753.3 946.0,760.0" fill="none" stroke="#000" stroke-width="10" stroke-linecap="round" stroke-linejoin="round"/></g></svg>
<div class="tx lab pur" style="left:95.0px;top:275.6px;font-size:43.6px;letter-spacing:2.2px;">ORIENTATION</div>
<div class="tx lab teal" style="left:203.0px;top:367.1px;font-size:43.6px;letter-spacing:0.83px;">PRIMARY</div>
<div class="tx lab teal" style="left:142.0px;top:816.5px;font-size:34.9px;letter-spacing:0.29px;">FACULTY/STAFF</div>
<div class="tx lab pur" style="left:300.5px;top:879.0px;font-size:34.9px;letter-spacing:-1.25px;">BOARD</div>
<div class="tx pct" style="left:707.8px;top:276.6px;font-size:43.6px;letter-spacing:1.5px;transform:scaleX(1.1264);">50%</div>
<div class="tx pct" style="left:703.9px;top:375.6px;font-size:43.6px;letter-spacing:1.5px;transform:scaleX(1.1023);">43%</div>
<div class="tx pct" style="left:703.8px;top:474.6px;font-size:43.6px;letter-spacing:1.5px;transform:scaleX(1.1034);">66%</div>
<div class="tx pct" style="left:703.8px;top:574.6px;font-size:43.6px;letter-spacing:1.5px;transform:scaleX(1.0977);">52%</div>
<div class="tx pct" style="left:703.8px;top:675.6px;font-size:43.6px;letter-spacing:1.5px;transform:scaleX(1.092);">53%</div>
<div class="tx pct2" style="left:1707.5px;top:824.6px;font-size:33.5px;letter-spacing:3.17px;">100%</div>
<div class="tx pct2" style="left:1711.0px;top:879.6px;font-size:33.5px;letter-spacing:3.0px;">100%</div>
<div class="tx lab pur" style="left:182.2px;top:472.1px;font-size:43.6px;letter-spacing:2.3px;transform:scaleX(0.9364);">LOWER</div>
<div class="tx lab pur" style="left:361.3px;top:472.1px;font-size:43.6px;letter-spacing:2.3px;transform:scaleX(0.8287);">EL</div>
<div class="tx lab teal" style="left:202.0px;top:578.1px;font-size:43.6px;letter-spacing:2.3px;transform:scaleX(0.8826);">UPPER</div>
<div class="tx lab teal" style="left:361.3px;top:578.1px;font-size:43.6px;letter-spacing:2.3px;transform:scaleX(0.8287);">EL</div>
<div class="tx lab pur" style="left:77.1px;top:675.6px;font-size:43.6px;letter-spacing:2.3px;transform:scaleX(0.967);">MIDDLE</div>
<div class="tx lab pur" style="left:271.6px;top:675.6px;font-size:43.6px;letter-spacing:2.3px;transform:scaleX(0.8667);">YEARS</div>
<div class="tx sub" style="left:605.5px;top:153.4px;font-size:74px;letter-spacing:2.0px;transform:scaleX(1.0437);">2025</div>
<div class="tx sub" style="left:813.0px;top:153.4px;font-size:74px;letter-spacing:2.0px;transform:scaleX(0.9947);">Annual</div>
<div class="tx sub" style="left:1106.1px;top:153.4px;font-size:74px;letter-spacing:2.0px;transform:scaleX(0.8867);">Fund,</div>
<div class="tx sub" style="left:1325.0px;top:153.4px;font-size:74px;letter-spacing:2.0px;transform:scaleX(0.8537);">as</div>
<div class="tx sub" style="left:1423.0px;top:153.4px;font-size:74px;letter-spacing:2.0px;transform:scaleX(0.974);">of</div>
<div class="tx sub" style="left:1524.1px;top:153.4px;font-size:74px;letter-spacing:2.0px;transform:scaleX(0.9442);">Dec.17</div>
<div class="tx amt" style="left:461.5px;top:1007.2px;font-size:84.3px;letter-spacing:3.0px;transform:scaleX(0.9849);">Amount</div>
<div class="tx amt" style="left:828.2px;top:1007.2px;font-size:84.3px;letter-spacing:3.0px;transform:scaleX(0.9645);">Raised:</div>
<div class="tx amt" style="left:1172.5px;top:1007.2px;font-size:84.3px;letter-spacing:3.0px;transform:scaleX(1.035);">$147,578</div>
<div class="tx goal" style="left:529.0px;top:1117.1px;font-size:65.4px;letter-spacing:3.0px;transform:scaleX(0.9886);">70%</div>
<div class="tx goal" style="left:689.5px;top:1117.1px;font-size:65.4px;letter-spacing:3.0px;transform:scaleX(0.9643);">of</div>
<div class="tx goal" style="left:781.6px;top:1117.1px;font-size:65.4px;letter-spacing:3.0px;transform:scaleX(1.1051);">$210,000</div>
<div class="tx goal" style="left:1129.4px;top:1117.1px;font-size:65.4px;letter-spacing:3.0px;transform:scaleX(1.0307);">Total</div>
<div class="tx goal" style="left:1328.5px;top:1117.1px;font-size:65.4px;letter-spacing:3.0px;">Goal</div>
<div class="tx par" style="left:544.0px;top:1213.6px;font-size:65.4px;letter-spacing:3.0px;transform:scaleX(1.0432);">Parent</div>
<div class="tx par" style="left:801.9px;top:1213.6px;font-size:65.4px;letter-spacing:3.0px;transform:scaleX(1.0673);">Participation:</div>
<div class="tx par" style="left:1342.0px;top:1213.6px;font-size:65.4px;letter-spacing:3.0px;transform:scaleX(0.9926);">50%</div>
<svg style="left:0;top:0;filter:drop-shadow(11px 10px 0 rgba(100,30,150,.6))" width="2000" height="260" viewBox="0 0 2000 260"><g font-family="Liberation Sans, sans-serif" font-weight="700" font-size="128" fill="#fff" stroke="#fff" stroke-width="8" stroke-linejoin="round" stroke-linecap="round"><text transform="translate(150.5,123.5) scale(0.9,1)" letter-spacing="17.07">Help</text><text transform="translate(490.5,123.5) scale(0.9,1)" letter-spacing="25.19">Monty</text><text transform="translate(974.5,123.5) scale(0.9,1)" letter-spacing="24.67">Win</text><text transform="translate(1273.8,123.5) scale(0.9,1)" letter-spacing="14.11">the</text><text transform="translate(1517.5,123.5) scale(0.9,1)" letter-spacing="10.44">Race!</text></g></svg>
<div style="left:1999px;top:0;width:1px;height:1333px;background:#b4ffff;"></div>
</div></body></html>
